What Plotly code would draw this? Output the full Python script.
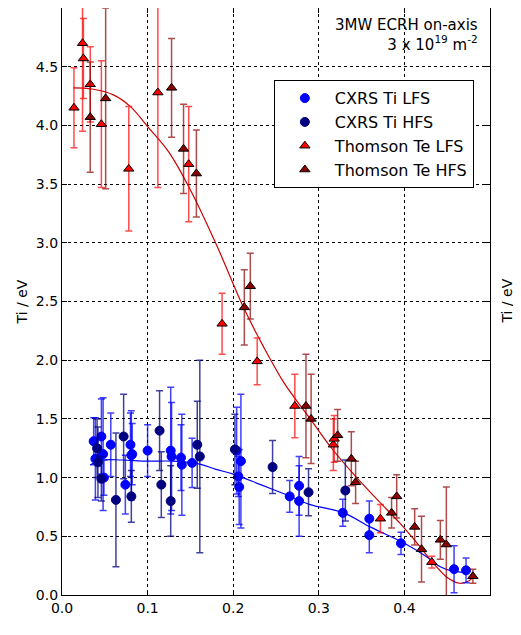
import plotly.graph_objects as go

# ---------------- data ----------------
# CXRS Ti LFS (blue)
cx_lfs_x = [0.037, 0.039, 0.046, 0.048, 0.049, 0.057, 0.074, 0.080, 0.081, 0.082, 0.100, 0.127, 0.128,
            0.139, 0.140, 0.152, 0.204, 0.206, 0.207, 0.209, 0.266, 0.277, 0.277, 0.328, 0.359, 0.359,
            0.396, 0.458, 0.472]
cx_lfs_y = [1.31, 1.16, 1.35, 1.20, 1.00, 1.28, 0.94, 1.28, 1.19, 1.20, 1.23, 1.23, 1.18,
            1.17, 1.11, 1.125, 1.23, 1.01, 0.92, 1.14, 0.84, 0.93, 0.80, 0.70, 0.65, 0.51,
            0.44, 0.22, 0.21]
cx_lfs_e = [0.20, 0.35, 0.32, 0.48, 0.15, 0.27, 0.25, 0.27, 0.38, 0.26, 0.22, 0.54, 0.46,
            0.28, 0.43, 0.21, 0.37, 0.17, 0.32, 0.57, 0.135, 0.25, 0.30, 0.115, 0.15, 0.15,
            0.095, 0.20, 0.105]

# CXRS Ti HFS (navy)
cx_hfs_x = [0.041, 0.042, 0.046, 0.063, 0.072, 0.081, 0.114, 0.116, 0.127, 0.158, 0.161, 0.202,
            0.246, 0.288, 0.331]
cx_hfs_y = [1.25, 1.13, 0.99, 0.81, 1.35, 0.84, 1.40, 0.94, 0.80, 1.28, 1.18, 1.24,
            1.09, 0.875, 0.89]
cx_hfs_e = [0.25, 0.30, 0.19, 0.57, 0.36, 0.22, 0.34, 0.28, 0.30, 0.37, 0.82, 0.30,
            0.225, 0.20, 0.26]

# Thomson Te LFS (red)
th_lfs_x = [0.014, 0.024, 0.025, 0.033, 0.046, 0.078, 0.112, 0.148, 0.187, 0.228, 0.272,
            0.317, 0.318, 0.372, 0.432]
th_lfs_y = [4.15, 4.70, 4.57, 4.35, 4.01, 3.63, 4.28, 3.67, 2.31, 1.99, 1.61,
            1.28, 1.33, 0.65, 0.28]
th_lfs_e = [0.34, 0.75, 0.34, 0.32, 0.54, 0.53, 0.81, 0.49, 0.26, 0.20, 0.27,
            0.22, 0.20, 0.12, 0.05]

# Thomson Te HFS (dark red)
th_hfs_x = [0.033, 0.051, 0.128, 0.142, 0.157, 0.213, 0.220, 0.285, 0.291, 0.322, 0.338,
            0.343, 0.385, 0.391, 0.412, 0.420, 0.442, 0.449, 0.480]
th_hfs_y = [4.07, 4.23, 4.32, 3.80, 3.59, 2.45, 2.63, 1.61, 1.50, 1.36, 1.16,
            0.96, 0.70, 0.84, 0.58, 0.39, 0.47, 0.43, 0.16]
th_hfs_e = [0.47, 0.77, 0.42, 0.38, 0.37, 0.32, 0.28, 0.44, 0.38, 0.22, 0.23,
            0.18, 0.13, 0.185, 0.155, 0.28, 0.165, 0.49, 0.06]

# fitted profiles
fit_ti_x = [0.033, 0.048, 0.07, 0.10, 0.13, 0.161, 0.18, 0.20, 0.232, 0.26, 0.29, 0.329,
            0.36, 0.40, 0.425, 0.442, 0.455, 0.475]
fit_ti_y = [1.11, 1.15, 1.15, 1.14, 1.14, 1.115, 1.07, 1.03, 0.94, 0.86, 0.77, 0.70,
            0.58, 0.44, 0.33, 0.24, 0.205, 0.19]
fit_te_x = [0.013, 0.035, 0.06, 0.08, 0.10, 0.125, 0.15, 0.18, 0.212, 0.235, 0.26, 0.29,
            0.315, 0.343, 0.37, 0.395, 0.415, 0.434, 0.45, 0.465, 0.475, 0.483]
fit_te_y = [4.32, 4.31, 4.26, 4.16, 3.99, 3.77, 3.45, 2.99, 2.45, 2.12, 1.80, 1.50,
            1.25, 1.01, 0.80, 0.61, 0.44, 0.27, 0.15, 0.10, 0.12, 0.17]

x_ticks = [0.0, 0.1, 0.2, 0.3, 0.4]
y_ticks = [0.0, 0.5, 1.0, 1.5, 2.0, 2.5, 3.0, 3.5, 4.0, 4.5]

FONT = "DejaVu Sans"

fig = go.Figure()

fig.add_trace(go.Scatter(x=fit_ti_x, y=fit_ti_y, mode="lines", line=dict(color="#0000ff", width=1.2, shape="spline"),
                         showlegend=False, hoverinfo="skip"))
fig.add_trace(go.Scatter(x=fit_te_x, y=fit_te_y, mode="lines", line=dict(color="#cc0000", width=1.2, shape="spline"),
                         showlegend=False, hoverinfo="skip"))


def err_trace(x, y, e, name, mcol, ecol, symbol, lcol, size):
    return go.Scatter(
        x=x, y=y, mode="markers", name=name,
        marker=dict(color=mcol, symbol=symbol, size=size, line=dict(color=lcol, width=1)),
        error_y=dict(type="data", array=e, visible=True, color=ecol, thickness=1.5, width=3.5),
    )


fig.add_trace(err_trace(cx_lfs_x, cx_lfs_y, cx_lfs_e, "CXRS Ti LFS", "#0000ff", "rgba(0,0,255,0.75)",
                        "circle", "#0000ff", 9))
fig.add_trace(err_trace(cx_hfs_x, cx_hfs_y, cx_hfs_e, "CXRS Ti HFS", "#000080", "rgba(0,0,128,0.75)",
                        "circle", "#000080", 9))
fig.add_trace(err_trace(th_lfs_x, th_lfs_y, th_lfs_e, "Thomson Te LFS", "#ff0000", "rgba(255,0,0,0.7)",
                        "triangle-up", "black", 9))
fig.add_trace(err_trace(th_hfs_x, th_hfs_y, th_hfs_e, "Thomson Te HFS", "#8b0000", "rgba(139,0,0,0.7)",
                        "triangle-up", "black", 9))

axis_common = dict(
    showline=True, linecolor="black", linewidth=1.2, mirror="allticks",
    ticks="inside", ticklen=5, tickwidth=1, tickcolor="black",
    showgrid=True, gridcolor="black", gridwidth=1, griddash="dot",
    zeroline=False, tickfont=dict(family=FONT, size=14, color="black"),
)

fig.update_xaxes(range=[0, 0.5], tickvals=x_ticks, ticktext=[f"{v:.1f}" for v in x_ticks], **axis_common)
fig.update_yaxes(range=[0, 5.0], tickvals=y_ticks, ticktext=[f"{v:.1f}" for v in y_ticks], **axis_common)

fig.update_layout(
    width=513, height=627,
    margin=dict(l=54, r=31, t=0, b=40, autoexpand=False),
    paper_bgcolor="white", plot_bgcolor="white",
    font=dict(family=FONT, color="black"),
    showlegend=True,
    legend=dict(
        x=0.495, y=0.877, xanchor="left", yanchor="top",
        bgcolor="white", bordercolor="black", borderwidth=1,
        font=dict(family=FONT, size=16, color="black"),
        itemwidth=50, tracegroupgap=0,
    ),
    annotations=[
        dict(text="3MW ECRH on-axis<br>3 x 10<sup>19</sup> m<sup>-2</sup>", xref="paper", yref="paper",
             x=0.976, y=0.99, xanchor="right", yanchor="top", align="right", showarrow=False,
             font=dict(family=FONT, size=15, color="black")),
        dict(text="Ti / eV", xref="paper", yref="paper", x=-0.117, y=0.5, textangle=-90,
             showarrow=False, font=dict(family=FONT, size=14, color="black")),
        dict(text="Ti / eV", xref="paper", yref="paper", x=1.061, y=0.5, textangle=-90,
             showarrow=False, font=dict(family=FONT, size=14, color="black")),
    ],
)

fig.write_html("out.html")
